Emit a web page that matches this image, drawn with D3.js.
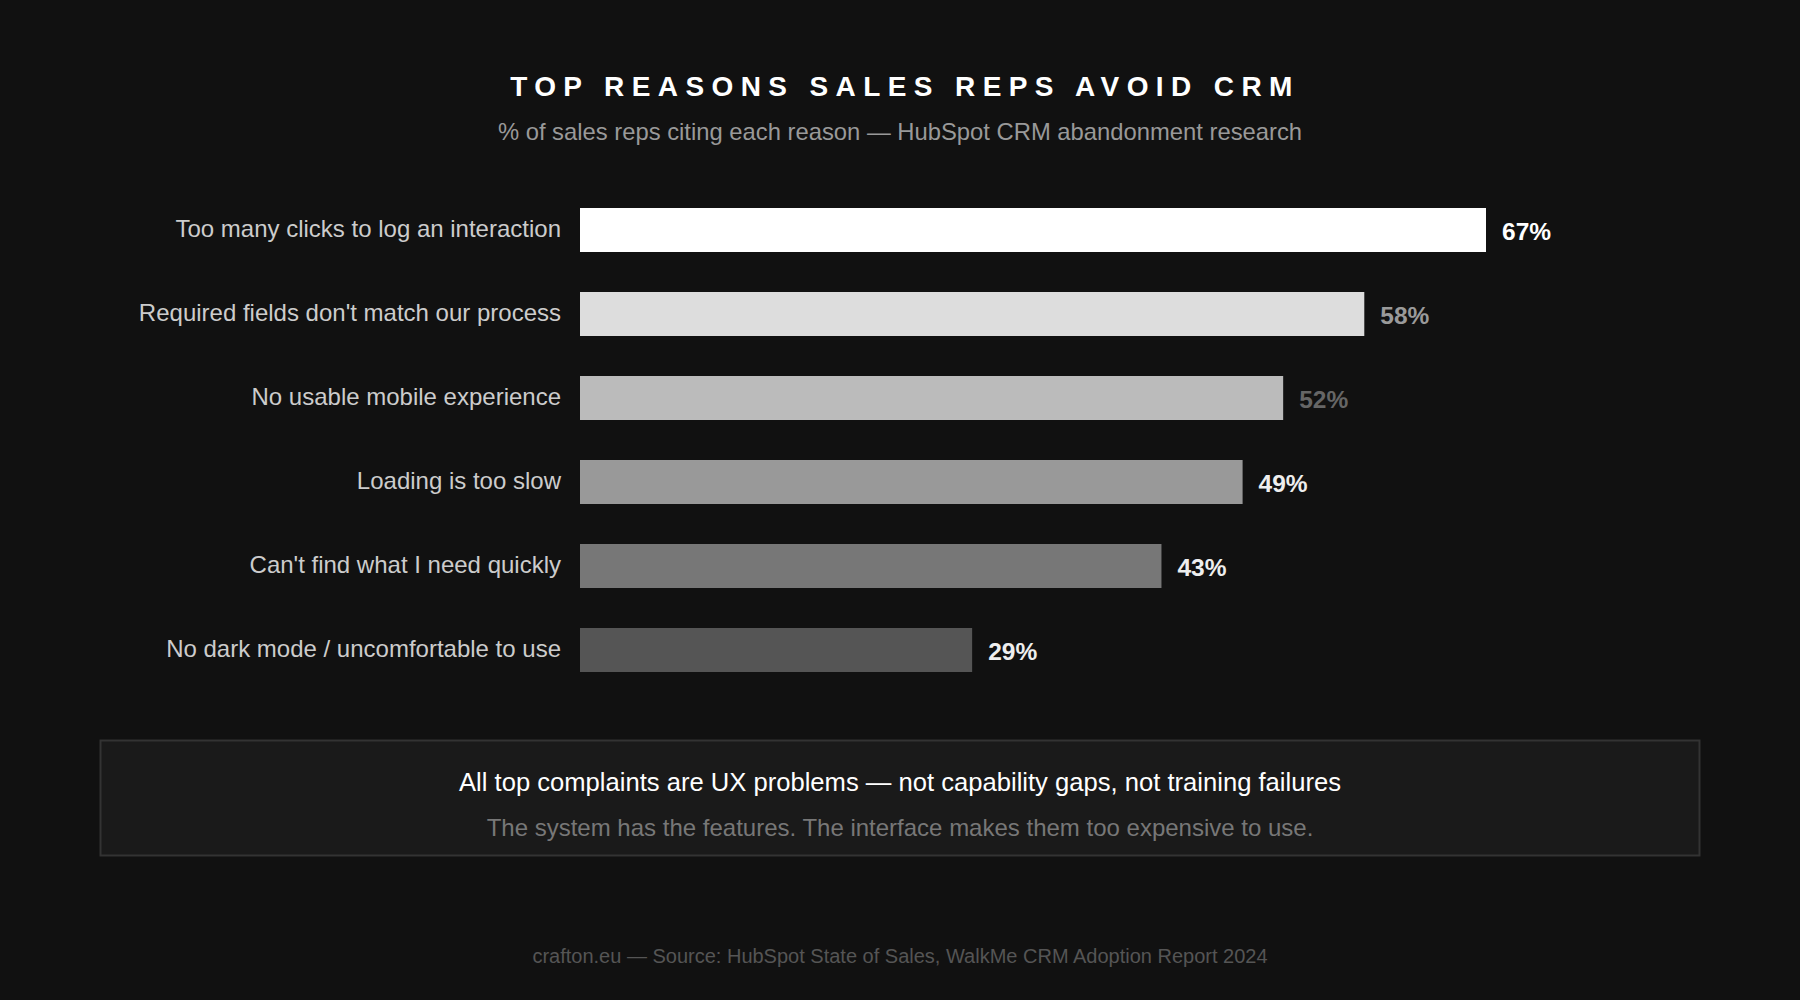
<!DOCTYPE html>
<html>
<head>
<meta charset="utf-8">
<script src="https://cdn.jsdelivr.net/npm/d3@7"></script>
<style>
  html, body { margin: 0; padding: 0; background: #111111; }
  svg { display: block; font-family: "Liberation Sans", Arial, Helvetica, sans-serif; }
</style>
</head>
<body>
<div id="chart"></div>
<script>
// Data
const reasons = [
    "Too many clicks to log an interaction",
    "Required fields don't match our process",
    "No usable mobile experience",
    "Loading is too slow",
    "Can't find what I need quickly",
    "No dark mode / uncomfortable to use"
];
const shares = [67, 58, 52, 49, 43, 29];

// Styles
const barColors = ["#ffffff", "#dddddd", "#bbbbbb", "#999999", "#777777", "#555555"];
const valueColors = ["#ffffff", "#9a9a9a", "#666666", "#eeeeee", "#eeeeee", "#eeeeee"];

const data = reasons.map((r, i) => ({reason: r, value: shares[i], i: i}));

const W = 1800, H = 1000;

const svg = d3.select("#chart")
  .append("svg")
    .attr("width", W)
    .attr("height", H);

svg.append("rect")
    .attr("width", W)
    .attr("height", H)
    .attr("fill", "#111111");

// Title + subtitle
svg.append("text")
    .attr("x", W / 2 + 5)
    .attr("y", 96)
    .attr("text-anchor", "middle")
    .attr("fill", "#ffffff")
    .style("font-size", "28px")
    .style("font-weight", "bold")
    .style("letter-spacing", "7.4px")
    .text("TOP REASONS SALES REPS AVOID CRM");

svg.append("text")
    .attr("x", W / 2)
    .attr("y", 140)
    .attr("text-anchor", "middle")
    .attr("fill", "#999999")
    .style("font-size", "23.8px")
    .text("% of sales reps citing each reason \u2014 HubSpot CRM abandonment research");

// Scales
const x = d3.scaleLinear()
    .domain([0, d3.max(shares)])
    .range([580, 1486]);

const y = d3.scaleBand()
    .domain(reasons)
    .range([188, 692])
    .paddingInner(40 / 84)
    .paddingOuter(20 / 84);

// Bars
svg.selectAll(".bar")
  .data(data)
  .enter().append("rect")
    .attr("class", "bar")
    .attr("x", x(0))
    .attr("y", d => y(d.reason))
    .attr("width", d => x(d.value) - x(0))
    .attr("height", y.bandwidth())
    .attr("fill", d => barColors[d.i]);

// Category labels
svg.selectAll(".cat")
  .data(data)
  .enter().append("text")
    .attr("class", "cat")
    .attr("x", x(0) - 19)
    .attr("y", d => y(d.reason) + y.bandwidth() / 2)
    .attr("dy", "0.28em")
    .attr("text-anchor", "end")
    .attr("fill", "#cccccc")
    .style("font-size", "24px")
    .text(d => d.reason);

// Value labels
svg.selectAll(".val")
  .data(data)
  .enter().append("text")
    .attr("class", "val")
    .attr("x", d => x(d.value) + 16)
    .attr("y", d => y(d.reason) + y.bandwidth() / 2)
    .attr("dy", "0.42em")
    .attr("fill", d => valueColors[d.i])
    .style("font-size", "24.5px")
    .style("font-weight", "bold")
    .text(d => d.value + "%");

// Callout box
svg.append("rect")
    .attr("x", 100.5)
    .attr("y", 740.5)
    .attr("width", 1599)
    .attr("height", 115)
    .attr("fill", "#1a1a1a")
    .attr("stroke", "#333333")
    .attr("stroke-width", 2);

svg.append("text")
    .attr("x", W / 2)
    .attr("y", 791)
    .attr("text-anchor", "middle")
    .attr("fill", "#ffffff")
    .style("font-size", "25.6px")
    .text("All top complaints are UX problems \u2014 not capability gaps, not training failures");

svg.append("text")
    .attr("x", W / 2)
    .attr("y", 836)
    .attr("text-anchor", "middle")
    .attr("fill", "#777777")
    .style("font-size", "24px")
    .text("The system has the features. The interface makes them too expensive to use.");

// Footer
svg.append("text")
    .attr("x", W / 2)
    .attr("y", 963)
    .attr("text-anchor", "middle")
    .attr("fill", "#555555")
    .style("font-size", "20px")
    .text("crafton.eu \u2014 Source: HubSpot State of Sales, WalkMe CRM Adoption Report 2024");
</script>
</body>
</html>
